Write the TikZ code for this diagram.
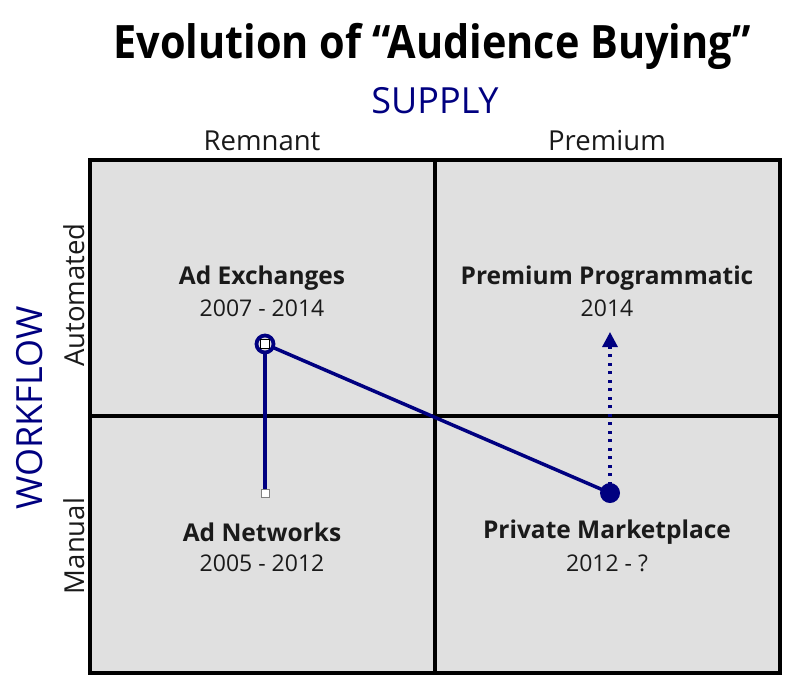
\documentclass[tikz,border=0pt]{standalone}
\usepackage{fontspec}
\setmainfont{Open Sans}
\newfontfamily\titlefont[FakeStretch=0.9]{Open Sans}
\usetikzlibrary{arrows.meta}
\definecolor{navy}{HTML}{000080}
\definecolor{quadgray}{HTML}{E0E0E0}
\definecolor{inkgray}{HTML}{1A1A1A}
\tikzset{
  grid/.style={line width=3.5pt, black},
  axis/.style={font=\fontsize{27.5}{27.5}\selectfont, text=inkgray},
  dim/.style={font=\fontsize{36}{36}\selectfont, text=navy},
  quad/.style={font=\bfseries\fontsize{24.5}{24.5}\selectfont, text=inkgray},
  years/.style={font=\fontsize{23}{23}\selectfont, text=inkgray},
  track/.style={line width=3.2pt, navy}
}
\begin{document}
\begin{tikzpicture}[x=1pt,y=-1pt]
  \useasboundingbox (0,0) rectangle (800,694);
  % quadrants
  \fill[quadgray] (90,160) rectangle (780,673);
  \draw[grid] (90,160) rectangle (780,673);
  \draw[grid] (435,160) -- (435,673);
  \draw[grid] (90,416) -- (780,416);
  % titles
  \node (title) at (432,46) {\titlefont\bfseries\fontsize{46}{46}\selectfont Evolution of “Audience Buying”};
  \node[dim] (supply) at (435,101) {SUPPLY};
  \node[dim, rotate=90] (workflow) at (30,408) {WORKFLOW};
  \node[axis] (remnant) at (262,141) {Remnant};
  \node[axis] (premium) at (607,141) {Premium};
  \node[axis, rotate=90] (automated) at (74,295) {Automated};
  \node[axis, rotate=90] (manual) at (74,546) {Manual};
  % labels
  \node[quad] (exch) at (262,278) {Ad Exchanges};
  \node[years] (exchy) at (262,308) {2007 - 2014};
  \node[quad] (prog) at (607,278) {Premium Programmatic};
  \node[years] (progy) at (607,308) {2014};
  \node[quad] (netw) at (262,532) {Ad Networks};
  \node[years] (netwy) at (262,563) {2005 - 2012};
  \node[quad] (pmp) at (607,532) {Private Marketplace};
  \node[years] (pmpy) at (607,563) {2012 - ?};
  % path
  \coordinate (a) at (265,344);
  \coordinate (b) at (265,493);
  \coordinate (c) at (610,493);
  \coordinate (d) at (610,332);
  \begin{scope}[track]
    \draw (a) -- (b);
    \draw[line width=3.5pt] (a) -- (c);
    \draw[dash pattern=on 3pt off 5.5pt, -{Triangle[length=15pt,width=15pt]}] (c) -- (d);
  \end{scope}
  \node[circle, draw=navy, line width=3.8pt, fill=quadgray, minimum size=17pt, inner sep=0pt] (ring) at (a) {};
  \node[draw=black, fill=white, line width=1pt, minimum size=8.5pt, inner sep=0pt] (sqa) at (a) {};
  \node[draw=gray, fill=white, line width=1pt, minimum size=8pt, inner sep=0pt] (sqb) at (b) {};
  \node[circle, fill=navy, minimum size=20pt, inner sep=0pt] (dot) at (c) {};
\end{tikzpicture}
\end{document}
